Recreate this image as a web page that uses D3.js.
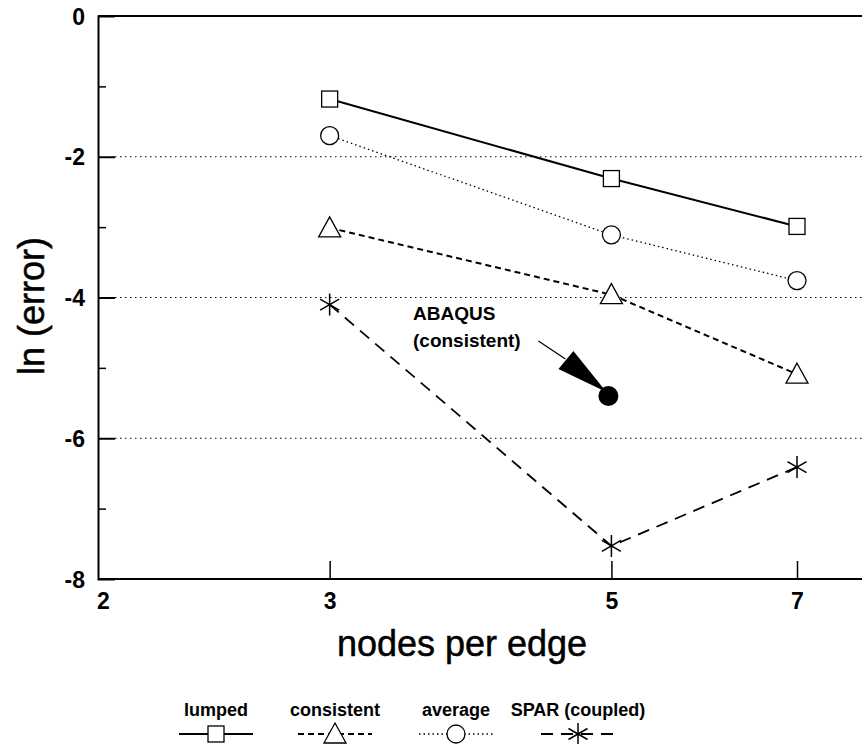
<!DOCTYPE html>
<html>
<head>
<meta charset="utf-8">
<script src="https://cdn.jsdelivr.net/npm/d3@7"></script>
<style>
  body { margin: 0; background: #fff; }
  svg { font-family: "Liberation Sans", Arial, sans-serif; }
</style>
</head>
<body>
<svg id="chart" width="862" height="744"></svg>
<script>
// values
const nodes = [3, 5, 7];
const lumped = [-1.18, -2.31, -2.99];
const consistent = [-3.01, -3.96, -5.09];
const average = [-1.70, -3.11, -3.76];
const spar = [-4.10, -7.53, -6.41];
const abaqus = { x: 5, y: -5.40 };
const xTicks = [2, 3, 5, 7];
const yMajor = [0, -2, -4, -6, -8];
const yMinor = [-1, -3, -5, -7];

const series = [
    { name: "lumped", values: lumped, dash: null, width: 2, marker: "square" },
    { name: "consistent", values: consistent, dash: "6,4", width: 2, marker: "triangle" },
    { name: "average", values: average, dash: "1.5,3", width: 1.3, marker: "circle" },
    { name: "SPAR (coupled)", values: spar, dash: "12,8", width: 1.8, marker: "star" }
];

const svg = d3.select("#chart");
const plotLeft = 98, plotTop = 16, plotBottom = 579;
const W = 862;

const x = d3.scaleLog().domain([2, 7]).range([106, 797]);
const y = d3.scaleLinear().domain([-8, 0]).range([plotBottom, plotTop]);
const fmt = d => String(d);

// frame: top line runs off the right side
svg.append("line").attr("x1", plotLeft).attr("x2", W).attr("y1", plotTop).attr("y2", plotTop)
    .attr("stroke", "#000").attr("stroke-width", 2);

// dotted grid lines
svg.append("g").selectAll("line")
    .data([-2, -4, -6])
    .enter().append("line")
    .attr("x1", plotLeft + 17).attr("x2", W)
    .attr("y1", d => y(d)).attr("y2", d => y(d))
    .attr("stroke", "#000").attr("stroke-width", 1)
    .attr("stroke-dasharray", "1.5,3.5");

// y axis
const yAxis = svg.append("g")
    .attr("transform", `translate(${plotLeft},0)`)
    .call(d3.axisLeft(y).tickValues(yMajor).tickSize(-17).tickPadding(13).tickFormat(fmt));
yAxis.select(".domain").attr("stroke-width", 2);
yAxis.selectAll(".tick line").attr("stroke-width", 2)
    .attr("display", d => (d === 0 || d === -8) ? "none" : null);
yAxis.selectAll(".tick text").attr("font-size", 23).attr("font-weight", "bold")
    .attr("font-family", "Liberation Sans, Arial, sans-serif")
    .attr("dy", "0.35em");

svg.append("g")
    .attr("transform", `translate(${plotLeft},0)`)
    .call(d3.axisLeft(y).tickValues(yMinor).tickSize(-8).tickFormat(""))
    .call(g => g.select(".domain").remove())
    .selectAll(".tick line").attr("stroke-width", 1.5);

// x axis
const xAxis = svg.append("g")
    .attr("transform", `translate(0,${plotBottom})`)
    .call(d3.axisBottom(x).tickValues(xTicks).tickSize(-18).tickPadding(14).tickFormat(fmt));
xAxis.select(".domain").attr("d", `M${plotLeft},0H${W}`).attr("stroke-width", 2);
xAxis.selectAll(".tick line").attr("stroke-width", 1.5)
    .attr("display", d => d === 2 ? "none" : null);
xAxis.selectAll(".tick text").attr("font-size", 23).attr("font-weight", "bold")
    .attr("font-family", "Liberation Sans, Arial, sans-serif")
    .attr("dx", d => d === 2 ? -3 : 0);

// axis titles
svg.append("text")
    .attr("x", 462).attr("y", 656)
    .attr("text-anchor", "middle")
    .attr("font-size", 36)
    .attr("stroke", "#000").attr("stroke-width", 0.5)
    .text("nodes per edge");

svg.append("text")
    .attr("transform", `translate(44,306) rotate(-90)`)
    .attr("text-anchor", "middle")
    .attr("font-size", 36)
    .attr("stroke", "#000").attr("stroke-width", 0.5)
    .text("ln (error)");

// markers
function drawMarker(g, type, cx, cy) {
    if (type === "square") {
        g.append("rect").attr("x", cx - 8).attr("y", cy - 8).attr("width", 16).attr("height", 16)
            .attr("fill", "#fff").attr("stroke", "#000").attr("stroke-width", 1.3);
    } else if (type === "circle") {
        g.append("circle").attr("cx", cx).attr("cy", cy).attr("r", 9)
            .attr("fill", "#fff").attr("stroke", "#000").attr("stroke-width", 1.3);
    } else if (type === "triangle") {
        g.append("path")
            .attr("d", `M${cx},${cy - 11}L${cx + 11},${cy + 9}L${cx - 11},${cy + 9}Z`)
            .attr("fill", "#fff").attr("stroke", "#000").attr("stroke-width", 1.3);
    } else if (type === "star") {
        const r = 11;
        const a = Math.PI / 6;
        g.append("path")
            .attr("d", `M${cx},${cy - r}V${cy + r}` +
                `M${cx - r * Math.cos(a)},${cy - r * Math.sin(a)}L${cx + r * Math.cos(a)},${cy + r * Math.sin(a)}` +
                `M${cx - r * Math.cos(a)},${cy + r * Math.sin(a)}L${cx + r * Math.cos(a)},${cy - r * Math.sin(a)}`)
            .attr("fill", "none").attr("stroke", "#000").attr("stroke-width", 1.5);
    }
}

const line = d3.line().x(d => x(d[0])).y(d => y(d[1]));

series.forEach(s => {
    const pts = nodes.map((n, i) => [n, s.values[i]]);
    const g = svg.append("g");
    g.append("path")
        .attr("d", line(pts))
        .attr("fill", "none")
        .attr("stroke", "#000")
        .attr("stroke-width", s.width)
        .attr("stroke-dasharray", s.dash);
    pts.forEach(p => drawMarker(g, s.marker, x(p[0]), y(p[1])));
});

// ABAQUS annotation
const ax = x(abaqus.x) - 3, ay = y(abaqus.y);
svg.append("circle").attr("cx", ax).attr("cy", ay).attr("r", 10).attr("fill", "#000");
svg.append("line").attr("x1", ax - 70).attr("y1", ay - 55).attr("x2", ax - 43).attr("y2", ay - 37)
    .attr("stroke", "#000").attr("stroke-width", 1.2);
svg.append("path")
    .attr("d", `M${ax - 50},${ay - 27}L${ax - 35},${ay - 45}L${ax - 2},${ay - 4}Z`)
    .attr("fill", "#000");
svg.append("text").attr("x", 413).attr("y", 320).attr("font-size", 19).attr("font-weight", "bold").text("ABAQUS");
svg.append("text").attr("x", 413).attr("y", 347).attr("font-size", 19).attr("font-weight", "bold").text("(consistent)");

// legend
const legendX = [216, 335, 456, 578];
const legend = svg.append("g");
series.forEach((s, i) => {
    const cx = legendX[i];
    legend.append("text")
        .attr("x", cx).attr("y", 716)
        .attr("text-anchor", "middle")
        .attr("font-size", 18)
        .attr("font-weight", "bold")
        .text(s.name);
    legend.append("line")
        .attr("x1", cx - 37).attr("x2", cx + 37)
        .attr("y1", 734).attr("y2", 734)
        .attr("stroke", "#000")
        .attr("stroke-width", s.width)
        .attr("stroke-dasharray", s.dash);
    drawMarker(legend, s.marker, cx, 734);
});
</script>
</body>
</html>
